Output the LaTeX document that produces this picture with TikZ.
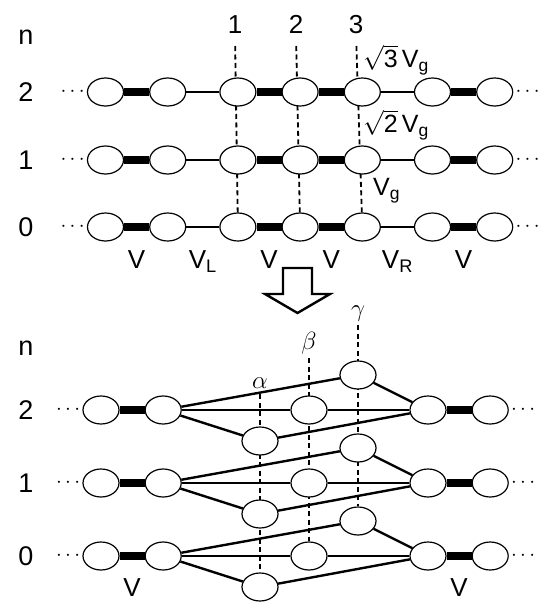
\documentclass[tikz,border=0pt]{standalone}
\usepackage{fontspec}
\setmainfont{Liberation Sans}
\usetikzlibrary{shapes.geometric, positioning, calc, backgrounds}
\tikzset{
  site/.style={ellipse, draw=black, fill=white, line width=1.2pt,
    minimum width=36pt, minimum height=28pt, inner sep=0pt},
  bondV/.style={line width=7.5pt},
  bondW/.style={line width=2pt},
  hop/.style={line width=2.4pt},
  guide/.style={line width=1.8pt, dash pattern=on 5pt off 3.5pt},
  rowlab/.style={font=\fontsize{27}{27}\selectfont, inner sep=0pt},
  lab/.style={font=\fontsize{26}{26}\selectfont, inner sep=2pt},
  coup/.style={font=\fontsize{25}{25}\selectfont, inner sep=0pt},
  ends/.style={font=\fontsize{22}{22}\selectfont, inner sep=0pt}
}
\begin{document}
\begin{tikzpicture}[x=1pt, y=-1pt, node distance=25pt]
\useasboundingbox (0,0) rectangle (545,603);

% upper picture: three sites on the chain
\foreach \n/\y in {0/227, 1/160, 2/92}{
  \node (a\n-1) [site] at (105.5,\y) {};
  \node (a\n-2) [site, right=of a\n-1]      {};
  \node (a\n-3) [site, right=33pt of a\n-2] {};
  \node (a\n-4) [site, right=of a\n-3]      {};
  \node (a\n-5) [site, right=of a\n-4]      {};
  \node (a\n-6) [site, right=33pt of a\n-5] {};
  \node (a\n-7) [site, right=of a\n-6]      {};
  \node (dl\n) [ends, left=2pt of a\n-1]  {$\cdots$};
  \node (dr\n) [ends, right=2pt of a\n-7] {$\cdots$};
  \node (ra\n) [rowlab] at (26,\y) {\n};
  \draw [bondV] (a\n-1) -- (a\n-2);
  \draw [bondW] (a\n-2) -- (a\n-3);
  \draw [bondV] (a\n-3) -- (a\n-4);
  \draw [bondV] (a\n-4) -- (a\n-5);
  \draw [bondW] (a\n-5) -- (a\n-6);
  \draw [bondV] (a\n-6) -- (a\n-7);
}
\node (na) [rowlab] at (26,37) {n};
\node (k1) [lab, inner sep=0pt, anchor=south] at (235,34) {1};
\node (k2) [lab, inner sep=0pt, anchor=south] at (296,34) {2};
\node (k3) [lab, inner sep=0pt, anchor=south] at (356,34) {3};
\begin{pgfonlayer}{background}
\draw [guide, shorten <=12pt] (k1.south) -- (a0-3);
\draw [guide, shorten <=12pt] (k2.south) -- (a0-4);
\draw [guide, shorten <=12pt] (k3.south) -- (a0-5);
\end{pgfonlayer}
\node (g3) [coup, anchor=west] at (363,60)  {$\sqrt{\mbox{3}}$\,V\textsubscript{g}};
\node (g2) [coup, anchor=west] at (363,125) {$\sqrt{\mbox{2}}$\,V\textsubscript{g}};
\node (g1) [coup, anchor=west] at (373,191) {V\textsubscript{g}};

\path (a0-1) -- node[lab, below=21pt] {V} (a0-2);
\path (a0-2) -- node[lab, below=21pt] {V\textsubscript{L}} (a0-3);
\path (a0-3) -- node[lab, below=21pt] {V} (a0-4);
\path (a0-4) -- node[lab, below=21pt] {V} (a0-5);
\path (a0-5) -- node[lab, below=21pt] {V\textsubscript{R}} (a0-6);
\path (a0-6) -- node[lab, below=21pt] {V} (a0-7);

\draw [line width=2.4pt, line join=miter] (283,268) -- (312,268) -- (312,294)
  -- (330,294) -- (297.5,313) -- (265,294) -- (283,294) -- cycle;

% lower picture: eigenstates alpha, beta, gamma
\foreach \n/\y in {0/556, 1/483, 2/410}{
  \node (b\n-1) [site] at (101,\y) {};
  \node (b\n-2) [site, right=of b\n-1] {};
  \node (al\n)  [site] at (260,\y+31) {};
  \node (be\n)  [site] at (309,\y)    {};
  \node (ga\n)  [site] at (358,\y-35) {};
  \node (b\n-3) [site] at (428,\y) {};
  \node (b\n-4) [site, right=of b\n-3] {};
  \node (el\n) [ends, left=2pt of b\n-1]  {$\cdots$};
  \node (er\n) [ends, right=2pt of b\n-4] {$\cdots$};
  \node (rb\n) [rowlab] at (26,\y) {\n};
  \draw [bondV] (b\n-1) -- (b\n-2);
  \draw [bondV] (b\n-3) -- (b\n-4);
  \draw [hop] (b\n-2) -- (al\n) (al\n) -- (b\n-3);
  \draw [hop] (b\n-2) -- (be\n) (be\n) -- (b\n-3);
  \draw [hop] (b\n-2) -- (ga\n) (ga\n) -- (b\n-3);
}
\node (nb) [rowlab] at (26,348) {n};
\node (lal) [lab, anchor=south] at (260,391) {$\alpha$};
\node (lbe) [lab, anchor=south] at (309,357) {$\beta$};
\node (lga) [lab, anchor=south] at (358,324) {$\gamma$};
\begin{pgfonlayer}{background}
\draw [guide, shorten <=3pt] (lal.south) -- (al0);
\draw [guide, shorten <=1pt] (lbe.south) -- (be0);
\draw [guide, shorten <=1pt] (lga.south) -- (ga0);
\end{pgfonlayer}
\path (b0-1) -- node[lab, below=20pt] {V} (b0-2);
\path (b0-3) -- node[lab, below=20pt] {V} (b0-4);
\end{tikzpicture}
\end{document}
